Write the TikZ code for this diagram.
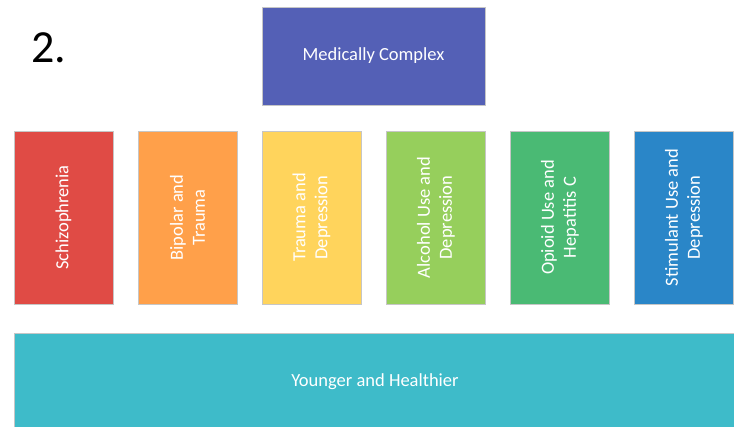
\documentclass[tikz,border=0pt]{standalone}
\usepackage{fontspec}
\setmainfont{Carlito}
\definecolor{cmed}{RGB}{84,96,182}
\definecolor{cschiz}{RGB}{224,75,69}
\definecolor{cbip}{RGB}{255,160,74}
\definecolor{ctrau}{RGB}{255,212,92}
\definecolor{calc}{RGB}{150,207,92}
\definecolor{copi}{RGB}{74,186,116}
\definecolor{cstim}{RGB}{42,134,200}
\definecolor{cyoung}{RGB}{62,187,201}
\tikzset{
  block/.style={draw=gray!45,line width=0.4pt,text=white,align=center,
    inner sep=0pt,font=\fontsize{18.5}{22}\selectfont},
  colbox/.style={block,rotate=90,minimum width=173pt,minimum height=99pt},
}
\begin{document}
\begin{tikzpicture}[x=1pt,y=-1pt]
				\useasboundingbox (0,0) rectangle (734,426);
				\node[anchor=base west,font=\fontsize{46}{50}\selectfont] (num) at (28,62) {2.};
				\node[block,fill=cmed,minimum width=223pt,minimum height=98pt] (med) at (373.5,56) {Medically Complex};
				\node[colbox,fill=cschiz] (schiz) at (63.5,217.5) {Schizophrenia};
				\node[colbox,fill=cbip] (bip) at (187.5,217.5) {Bipolar and\\Trauma};
				\node[colbox,fill=ctrau] (trau) at (311.5,217.5) {Trauma and\\Depression};
				\node[colbox,fill=calc] (alc) at (436,217.5) {Alcohol Use and\\Depression};
				\node[colbox,fill=copi] (opi) at (560,217.5) {Opioid Use and\\Hepatitis C};
				\node[colbox,fill=cstim] (stim) at (684,217.5) {Stimulant Use and\\Depression};
				\node[block,fill=cyoung,minimum width=722pt,minimum height=98pt] (young) at (375,382) {Younger and Healthier};
\end{tikzpicture}
\end{document}
